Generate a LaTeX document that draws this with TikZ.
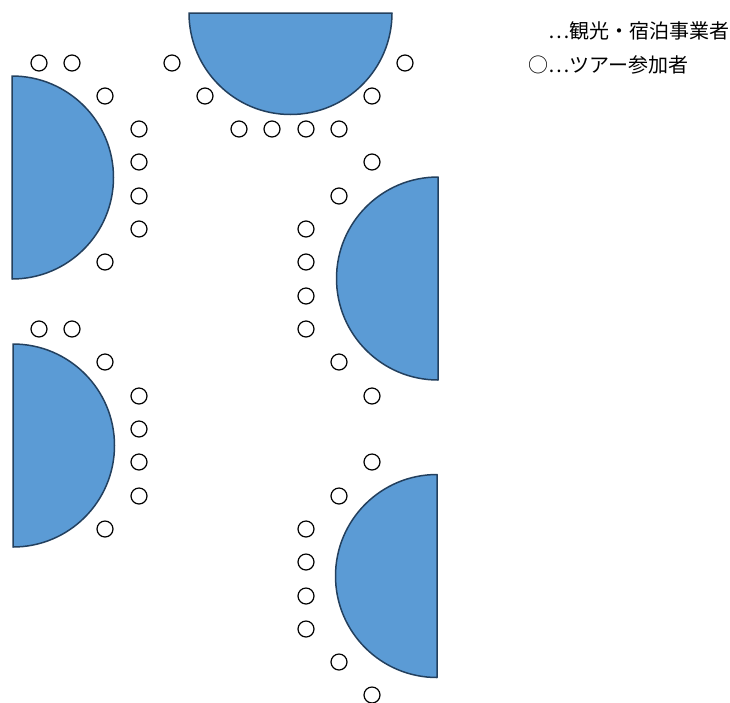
\documentclass[tikz,border=0pt]{standalone}
\usepackage{fontspec}
\newfontfamily\jpfont{Noto Sans CJK JP}
\begin{document}
\begin{tikzpicture}[x=1pt,y=-1pt]
\definecolor{tablefill}{HTML}{5B9BD5}
\definecolor{tableline}{HTML}{23405E}
\tikzset{
  tablestyle/.style={fill=tablefill,draw=tableline,line width=1.5pt,line join=round},
  seat/.style={circle,draw=black,fill=white,line width=1.2pt,minimum size=16pt,inner sep=0pt},
  legend/.style={anchor=west,inner sep=0pt,font=\jpfont\fontsize{20}{23}\selectfont}
}
\useasboundingbox (0,0) rectangle (730,702);
% half-round tables
\draw[tablestyle] (392,13) arc[start angle=0,end angle=180,radius=101.5] -- cycle;
\draw[tablestyle] (12,76) arc[start angle=-90,end angle=90,radius=101.5] -- cycle;
\draw[tablestyle] (13,344) arc[start angle=-90,end angle=90,radius=101.5] -- cycle;
\draw[tablestyle] (438,177) arc[start angle=-90,end angle=-270,radius=101.5] -- cycle;
\draw[tablestyle] (437,474.5) arc[start angle=-90,end angle=-270,radius=101.5] -- cycle;
% seats, top area
\node[seat] (s1) at (39,63) {};
\node[seat] (s2) at (72,63) {};
\node[seat] (s3) at (172,63) {};
\node[seat] (s4) at (405,63) {};
\node[seat] (s5) at (105,96) {};
\node[seat] (s6) at (205,96) {};
\node[seat] (s7) at (372,96) {};
\node[seat] (s8) at (139,129) {};
\node[seat] (s9) at (239,129) {};
\node[seat] (s10) at (272,129) {};
\node[seat] (s11) at (306,129) {};
\node[seat] (s12) at (339,129) {};
% left top table
\node[seat] (a1) at (139,162) {};
\node[seat] (a2) at (139,196) {};
\node[seat] (a3) at (139,229) {};
\node[seat] (a4) at (105,262) {};
% right middle table
\node[seat] (b1) at (372,162) {};
\node[seat] (b2) at (339,196) {};
\node[seat] (b3) at (306,229) {};
\node[seat] (b4) at (306,262) {};
\node[seat] (b5) at (306,296) {};
\node[seat] (b6) at (306,329) {};
\node[seat] (b7) at (339,362) {};
\node[seat] (b8) at (372,396) {};
% left bottom table
\node[seat] (c1) at (39,329) {};
\node[seat] (c2) at (72,329) {};
\node[seat] (c3) at (105,362) {};
\node[seat] (c4) at (139,396) {};
\node[seat] (c5) at (139,429) {};
\node[seat] (c6) at (139,462) {};
\node[seat] (c7) at (139,496) {};
\node[seat] (c8) at (105,529) {};
% right bottom table
\node[seat] (d1) at (372,462) {};
\node[seat] (d2) at (339,496) {};
\node[seat] (d3) at (306,529) {};
\node[seat] (d4) at (306,562) {};
\node[seat] (d5) at (306,596) {};
\node[seat] (d6) at (306,629) {};
\node[seat] (d7) at (339,662) {};
\node[seat] (d8) at (372,695) {};
% legend
\node[legend] (l1) at (548,31) {…観光・宿泊事業者};
\node[legend] (l2) at (528,65) {○…ツアー参加者};
\end{tikzpicture}
\end{document}
